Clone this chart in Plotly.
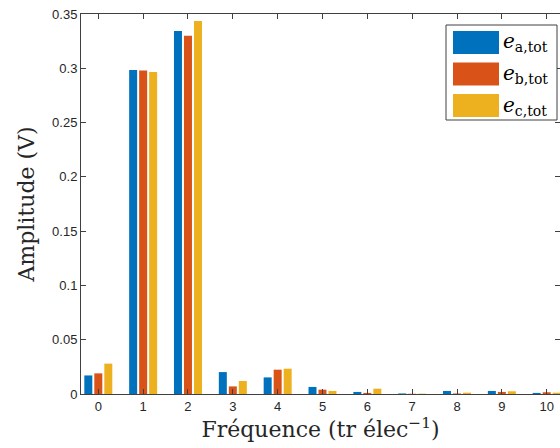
import plotly.graph_objects as go

# ---- data ----
freq = [0, 1, 2, 3, 4, 5, 6, 7, 8, 9, 10]
e_a = [0.0171, 0.2984, 0.3343, 0.0202, 0.0153, 0.0065, 0.0019, 0.0005, 0.0028, 0.0028, 0.0010]
e_b = [0.0190, 0.2980, 0.3300, 0.0070, 0.0224, 0.0040, 0.0010, 0.0002, 0.0005, 0.0019, 0.0016]
e_c = [0.0280, 0.2965, 0.3436, 0.0120, 0.0233, 0.0028, 0.0049, 0.0003, 0.0012, 0.0025, 0.0012]
series_names = ["<i>e</i><sub>a,tot</sub>", "<i>e</i><sub>b,tot</sub>", "<i>e</i><sub>c,tot</sub>"]
colors = ["#0072BD", "#D95319", "#EDB120"]
y_ticks = [0, 0.05, 0.1, 0.15, 0.2, 0.25, 0.3, 0.35]
y_ticktext = ["0", "0.05", "0.1", "0.15", "0.2", "0.25", "0.3", "0.35"]

W, H = 560, 448
ml, mr, mt, mb = 81, 0, 14, 54

fig = go.Figure()
for vals, name, col in zip([e_a, e_b, e_c], series_names, colors):
    fig.add_trace(go.Bar(x=freq, y=vals, name=name, marker=dict(color=col, line=dict(width=0)),
                         showlegend=False, hoverinfo="skip"))

axis_col = "#404040"
tick_font = dict(family="Liberation Sans, Arial, sans-serif", size=13, color="#262626")
title_font = dict(family="DejaVu Serif, serif", size=22, color="#262626")

fig.update_layout(
    width=W, height=H,
    margin=dict(l=ml, r=mr, t=mt, b=mb),
    plot_bgcolor="white", paper_bgcolor="white",
    barmode="group", bargap=0.331, bargroupgap=0.2,
    xaxis=dict(range=[-0.386, 10.297], tickvals=freq, ticktext=[str(f) for f in freq],
               ticks="inside", ticklen=5, tickcolor=axis_col, tickwidth=1,
               showline=True, linecolor=axis_col, linewidth=1, mirror="ticks",
               showgrid=False, zeroline=False, tickfont=tick_font,
               title=dict(text="Fréquence (tr élec<sup>−1</sup>)", font=title_font, standoff=6)),
    yaxis=dict(range=[0, 0.35], tickvals=y_ticks, ticktext=y_ticktext,
               ticks="inside", ticklen=5, tickcolor=axis_col, tickwidth=1,
               showline=True, linecolor=axis_col, linewidth=1, mirror="ticks",
               showgrid=False, zeroline=False, tickfont=tick_font,
               title=dict(text="Amplitude (V)", font=title_font, standoff=11)),
)

# ---- legend (drawn box with patches) ----
pw = W - ml - mr
ph = H - mt - mb
fig.add_shape(type="rect", xref="paper", yref="paper",
              x0=(446 - ml) / pw, x1=(557 - ml) / pw,
              y0=(H - mb - 120) / ph, y1=(H - mb - 25) / ph,
              line=dict(color=axis_col, width=1), fillcolor="white", layer="above")
for i, (name, col) in enumerate(zip(series_names, colors)):
    top = 31 + i * 31.5
    fig.add_shape(type="rect", xref="paper", yref="paper",
                  x0=(453 - ml) / pw, x1=(499 - ml) / pw,
                  y0=(H - mb - (top + 23)) / ph, y1=(H - mb - top) / ph,
                  line=dict(width=0), fillcolor=col, layer="above")
    fig.add_annotation(xref="paper", yref="paper", x=(501 - ml) / pw, y=(H - mb - (top + 11.5)) / ph,
                       text=name, showarrow=False, xanchor="left", yanchor="middle",
                       font=dict(family="DejaVu Serif, serif", size=20, color="#000000"))

fig.write_html("out.html", config={"displayModeBar": False, "staticPlot": True},
               post_script="document.body.style.margin='0px';document.body.style.overflow='hidden';")
